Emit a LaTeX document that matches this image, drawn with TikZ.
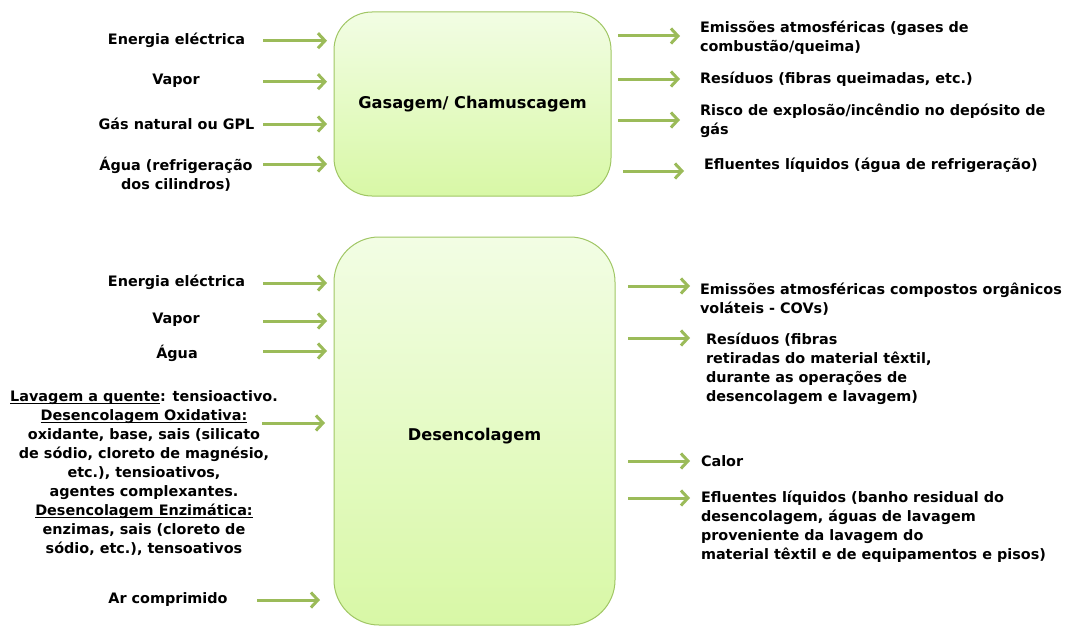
\documentclass[tikz,border=0pt]{standalone}
\usepackage{fontspec}
\setmainfont{DejaVu Sans}
\usetikzlibrary{arrows.meta}
\definecolor{flowgreen}{RGB}{155,187,89}
\definecolor{boxedge}{RGB}{160,198,100}
\definecolor{boxtop}{RGB}{242,253,228}
\definecolor{boxbottom}{RGB}{216,248,166}
% underline drawn close to the baseline
\newcommand{\ulbar}[1]{\setbox0\hbox{#1}\rlap{\rule[-1.6pt]{\wd0}{0.9pt}}\box0}
\begin{document}
\begin{tikzpicture}[x=1pt,y=-1pt,
  every node/.style={inner sep=0pt, outer sep=0pt},
  txt/.style={font=\bfseries\fontsize{14.4}{19}\selectfont, text=black},
  bigtxt/.style={font=\bfseries\fontsize{16.2}{20}\selectfont, text=black},
  lefttxt/.style={txt, anchor=west, align=left},
  midtxt/.style={txt, align=center},
  stage/.style={draw=boxedge, line width=1pt, top color=boxtop, bottom color=boxbottom},
  flow/.style={draw=flowgreen, line width=3pt,
    -{Straight Barb[length=7pt,width=15pt,line width=3pt]}}
]
\useasboundingbox (0,0) rectangle (1065,626);

% ---------- Gasagem / Chamuscagem ----------
\node[stage, bigtxt, minimum width=277pt, minimum height=184pt, rounded corners=38pt]
  (gas) at (472.5,104) {Gasagem/ Chamuscagem};

% inputs
\node[midtxt] (gin1) at (176.5,40) {Energia eléctrica};
\node[midtxt] (gin2) at (176,81) {Vapor};
\node[midtxt] (gin3) at (176.5,124) {Gás natural ou GPL};
\node[midtxt] (gin4) at (176,174.5) {Água (refrigeração\\dos cilindros)};

\coordinate (ga1) at (263,40.7);  \coordinate (gb1) at (327,40.7);
\coordinate (ga2) at (263,81.7);  \coordinate (gb2) at (327,81.7);
\coordinate (ga3) at (263,124);   \coordinate (gb3) at (327,124);
\coordinate (ga4) at (263,164);   \coordinate (gb4) at (327,164);
\foreach \i in {1,...,4} \draw[flow] (ga\i) -- (gb\i);

% outputs
\node[lefttxt] (gout1) at (700,38) {Emissões atmosféricas (gases de\\combustão/queima)};
\node[lefttxt] (gout2) at (700,79) {Resíduos (fibras queimadas, etc.)};
\node[lefttxt] (gout3) at (700,120.5) {Risco de explosão/incêndio no depósito de\\gás};
\node[lefttxt] (gout4) at (704,165) {Efluentes líquidos (água de refrigeração)};

\coordinate (gc1) at (618,36);   \coordinate (gd1) at (680,36);
\coordinate (gc2) at (618,79);   \coordinate (gd2) at (680,79);
\coordinate (gc3) at (618,120);  \coordinate (gd3) at (680,120);
\coordinate (gc4) at (623,171);  \coordinate (gd4) at (684,171);
\foreach \i in {1,...,4} \draw[flow] (gc\i) -- (gd\i);

% ---------- Desencolagem ----------
\node[stage, minimum width=281pt, minimum height=388pt, rounded corners=45pt]
  (des) at (474.5,431) {};
\node[bigtxt] (deslabel) at (474.5,436) {Desencolagem};

% inputs
\node[midtxt] (din1) at (176.5,282) {Energia eléctrica};
\node[midtxt] (din2) at (176,320) {Vapor};
\node[midtxt] (din3) at (177,353) {Água};
\node[midtxt] (din4) at (144,473.5) {\ulbar{Lavagem a quente}: tensioactivo.\\
  \ulbar{Desencolagem Oxidativa:}\\
  oxidante, base, sais (silicato\\
  de sódio, cloreto de magnésio,\\
  etc.), tensioativos,\\
  agentes complexantes.\\
  \ulbar{Desencolagem Enzimática:}\\
  enzimas, sais (cloreto de\\
  sódio, etc.), tensoativos};
\node[midtxt] (din5) at (168,600) {Ar comprimido};

\coordinate (da1) at (263,283);  \coordinate (db1) at (327,283);
\coordinate (da2) at (263,321);  \coordinate (db2) at (327,321);
\coordinate (da3) at (263,351);  \coordinate (db3) at (327,351);
\coordinate (da4) at (262,423);  \coordinate (db4) at (325,423);
\coordinate (da5) at (257,600);  \coordinate (db5) at (320,600);
\foreach \i in {1,...,5} \draw[flow] (da\i) -- (db\i);

% outputs
\node[lefttxt] (dout1) at (700,299) {Emissões atmosféricas compostos orgânicos\\voláteis - COVs)};
\node[lefttxt] (dout2) at (706,368.5) {Resíduos (fibras\\retiradas do material têxtil,\\durante as operações de\\desencolagem e lavagem)};
\node[lefttxt] (dout3) at (701,461) {Calor};
\node[lefttxt] (dout4) at (701,527) {Efluentes líquidos (banho residual do\\desencolagem, águas de lavagem\\proveniente da lavagem do\\material têxtil e de equipamentos e pisos)};

\coordinate (dc1) at (628,286);  \coordinate (dd1) at (690,286);
\coordinate (dc2) at (628,338);  \coordinate (dd2) at (690,338);
\coordinate (dc3) at (628,461);  \coordinate (dd3) at (690,461);
\coordinate (dc4) at (628,498);  \coordinate (dd4) at (690,498);
\foreach \i in {1,...,4} \draw[flow] (dc\i) -- (dd\i);
\end{tikzpicture}
\end{document}
